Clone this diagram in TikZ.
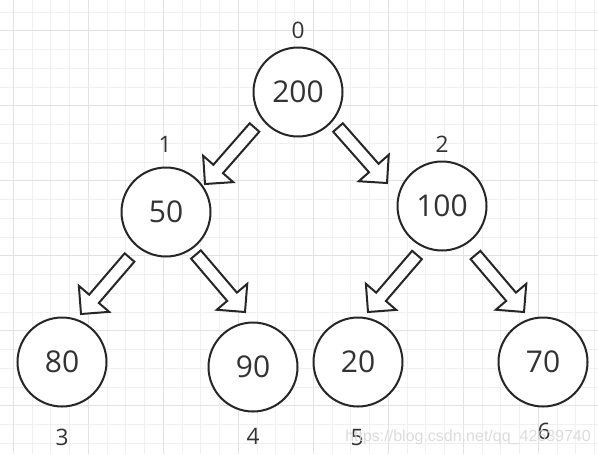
\documentclass[tikz,border=0pt]{standalone}
\usepackage{fontspec}
\setmainfont{Open Sans}
\newfontfamily\wmfont{Liberation Sans}
\usetikzlibrary{calc}
\definecolor{gridminor}{HTML}{F0F0F0}
\definecolor{gridmajor}{HTML}{E2E2E2}
\definecolor{ink}{HTML}{262626}
\definecolor{txt}{HTML}{333333}
\definecolor{wm}{HTML}{D6D6D6}
\tikzset{
  treenode/.style={circle, draw=ink, line width=1.5pt, fill=white, minimum size=66.75pt, inner sep=0pt, font=\fontsize{22.5}{26}\selectfont, text=txt},
  idxlabel/.style={anchor=base, inner sep=0pt, font=\fontsize{17}{20}\selectfont, text=txt},
  blockarrowstyle/.style={draw=ink, line width=1.5pt, fill=white, line join=miter},
  minorline/.style={draw=gridminor, line width=0.75pt},
  majorline/.style={draw=gridmajor, line width=0.75pt},
  watermark/.style={anchor=base west, inner sep=0pt, text=wm, font=\wmfont\fontsize{12}{14}\selectfont},
}
\newcommand\drawblockarrow[2]{%
  \coordinate (bah) at ($(#2)!15pt!(#1)$);
  \draw[blockarrowstyle] ($(#1)!4.8pt!90:(#2)$) -- ($(bah)!4.8pt!90:(#2)$) -- ($(bah)!15pt!90:(#2)$) -- (#2) -- ($(bah)!15pt!-90:(#2)$) -- ($(bah)!4.8pt!-90:(#2)$) -- ($(#1)!4.8pt!-90:(#2)$) -- cycle;
}
\begin{document}
\begin{tikzpicture}[x=0.75pt,y=-0.75pt]
  \useasboundingbox (0,0) rectangle (598,454);
  \fill[white] (0,0) rectangle (598,454);
  \begin{scope}
    \clip (0,0) rectangle (598,454);
    \foreach \i in {-1,...,32} \draw[minorline] ({13.33+18.75*\i},0) -- ({13.33+18.75*\i},454);
    \foreach \j in {-1,...,24} \draw[minorline] (0,{12+18.75*\j}) -- (598,{12+18.75*\j});
    \foreach \i in {0,...,7} \draw[majorline] ({13.33+75*\i},0) -- ({13.33+75*\i},454);
    \foreach \j in {0,...,5} \draw[majorline] (0,{30.75+75*\j}) -- (598,{30.75+75*\j});
  \end{scope}

  % tree nodes
  \node[treenode] (n0) at (298,92) {200};
  \node[treenode] (n1) at (166,212) {50};
  \node[treenode] (n2) at (442,206) {100};
  \node[treenode] (n3) at (62,362) {80};
  \node[treenode] (n4) at (253,367) {90};
  \node[treenode] (n5) at (358,362) {20};
  \node[treenode] (n6) at (543,362) {70};

  % index labels
  \node[idxlabel] (l0) at (298,38.5) {0};
  \node[idxlabel] (l1) at (165,152.5) {1};
  \node[idxlabel] (l2) at (442,152.5) {2};
  \node[idxlabel] (l3) at (62,445) {3};
  \node[idxlabel] (l4) at (253,444) {4};
  \node[idxlabel] (l5) at (357,445) {5};
  \node[idxlabel] (l6) at (544,439) {6};

  % arrow ends
  \coordinate (t01) at (254.5,127.5); \coordinate (p01) at (205,184);
  \coordinate (t02) at (338,127.5);   \coordinate (p02) at (387,183);
  \coordinate (t13) at (129.5,257.5); \coordinate (p13) at (81,314);
  \coordinate (t14) at (196,254.5);   \coordinate (p14) at (245,312);
  \coordinate (t25) at (417,255);     \coordinate (p25) at (368,312);
  \coordinate (t26) at (475.5,255);   \coordinate (p26) at (524,312);

  \drawblockarrow{t01}{p01}
  \drawblockarrow{t02}{p02}
  \drawblockarrow{t13}{p13}
  \drawblockarrow{t14}{p14}
  \drawblockarrow{t25}{p25}
  \drawblockarrow{t26}{p26}

  % watermark
  \node[watermark, opacity=0.85] (wm) at (345,441.5) {https://blog.csdn.net/qq\_42639740};
\end{tikzpicture}
\end{document}
